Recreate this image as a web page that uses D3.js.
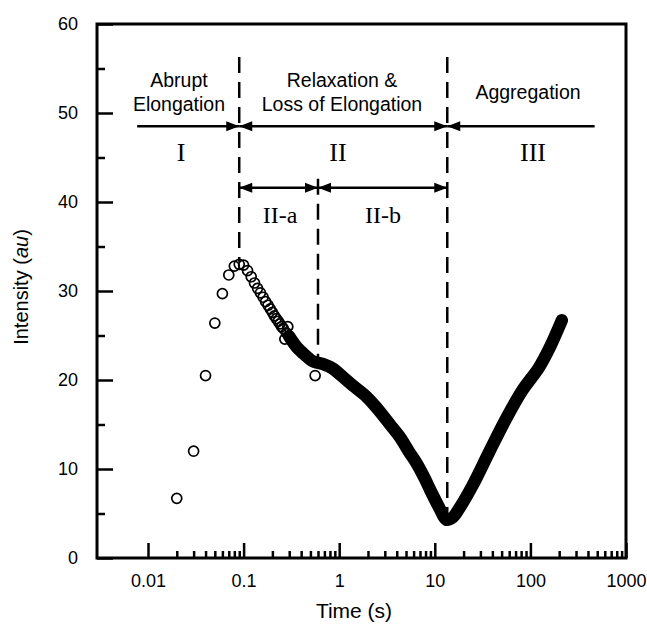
<!DOCTYPE html>
<html><head><meta charset="utf-8">
<script src="https://cdn.jsdelivr.net/npm/d3@7"></script>
<style>body{margin:0;background:#fff}</style>
</head><body>
<svg id="c" width="647" height="628"></svg>
<script>
// ---- data ----
const sparseTime = [0.02,0.03,0.04,0.05,0.06,0.07,0.08,0.09,0.10,0.11,0.12,0.13,0.14,0.15,0.16,0.17,0.18,0.19,0.20,
  0.21,0.22,0.23,0.24,0.25,0.26,0.27,0.28,0.29,0.30,0.31,0.32,0.33,0.34,0.35,0.56];
const sparseIntensity = [6.7,12.0,20.5,26.4,29.7,31.8,32.8,33.0,32.9,32.3,31.6,30.9,30.3,29.8,29.3,28.8,28.4,28.0,27.6,
  27.2,26.9,26.6,26.3,26.0,25.8,24.6,25.3,26.0,24.9,24.6,24.4,24.2,24.0,23.8,20.5];
const traceTime = [0.30,0.36,0.44,0.53,0.67,0.85,1.08,1.38,1.94,2.5,3.4,4.3,5.4,6.4,7.8,9.0,11.2,13.2,15.5,18.1,24.7,37,56,82,123,157,213];
const traceIntensity = [24.9,23.7,22.8,22.1,21.8,21.3,20.4,19.4,18.1,16.8,15.0,13.6,11.9,10.7,9.0,7.6,5.6,4.3,4.6,5.6,8.1,11.9,15.7,18.8,21.4,23.5,26.7];
const xTickValues = [0.01,0.1,1,10,100,1000];
const xTickLabels = ["0.01","0.1","1","10","100","1000"];
const yTickValues = [0,10,20,30,40,50,60];
const yTickLabels = ["0","10","20","30","40","50","60"];
const phaseBounds = [0.09, 0.6, 13.5];
const phaseStart = 0.0077, phaseEnd = 470;

// ---- drawing ----
const svg = d3.select("#c");
const L = 97, R = 626, T = 24, B = 558;
const x = d3.scaleLog().domain([0.01, 1000]).range([148, 626]);
const y = d3.scaleLinear().domain([0, 60]).range([B, T]);
const sans = "'Liberation Sans', Arial, sans-serif";
const serif = "'Liberation Serif', 'Times New Roman', serif";

// minor ticks
const xMinor = [];
[0.01,0.1,1,10,100].forEach(d => { for (let k = 2; k <= 9; k++) xMinor.push(d * k); });
const yMinor = d3.range(5, 60, 10);

const gx = svg.append("g").attr("transform", `translate(0,${B})`);
gx.append("g").call(d3.axisBottom(x).tickValues(xMinor).tickSize(-7).tickFormat(""));
gx.append("g").call(d3.axisBottom(x).tickValues(xTickValues).tickSize(-15).tickPadding(16)
  .tickFormat((d,i) => xTickLabels[i]));
gx.selectAll(".domain").remove();
gx.selectAll("line").attr("stroke", "#000").attr("stroke-width", 2.5);
gx.selectAll("text").attr("font-family", sans).attr("font-size", 18).attr("fill", "#000");

const gy = svg.append("g").attr("transform", `translate(${L},0)`);
gy.append("g").call(d3.axisLeft(y).tickValues(yMinor).tickSize(-8).tickFormat(""));
gy.append("g").call(d3.axisLeft(y).tickValues(yTickValues).tickSize(-16).tickPadding(19)
  .tickFormat((d,i) => yTickLabels[i]));
gy.selectAll(".domain").remove();
gy.selectAll("line").attr("stroke", "#000").attr("stroke-width", 2.5);
gy.selectAll("text").attr("font-family", sans).attr("font-size", 18).attr("fill", "#000");

// frame
svg.append("rect").attr("x", L).attr("y", T).attr("width", R - L).attr("height", B - T)
  .attr("fill", "none").attr("stroke", "#000").attr("stroke-width", 3);

// axis titles
svg.append("text").attr("x", 354).attr("y", 618).attr("text-anchor", "middle")
  .attr("font-family", sans).attr("font-size", 21).text("Time (s)");
const yt = svg.append("text").attr("transform", "translate(28,287) rotate(-90)").attr("text-anchor", "middle")
  .attr("font-family", sans).attr("font-size", 20);
yt.append("tspan").text("Intensity (");
yt.append("tspan").attr("font-style", "italic").text("au");
yt.append("tspan").text(")");

// dashed phase boundaries
const dashSpans = [[56.3, 33.3], [42.6, 21.8], [56.3, 5.2]];
phaseBounds.forEach((t, i) => {
  svg.append("line").attr("x1", x(t)).attr("x2", x(t))
    .attr("y1", y(dashSpans[i][0])).attr("y2", y(dashSpans[i][1]))
    .attr("stroke", "#000").attr("stroke-width", 2.5).attr("stroke-dasharray", "16,9");
});

// arrows
function head(px, py, dir) {
  const len = 13, h = 5;
  svg.append("path").attr("d", `M${px},${py}L${px - dir*len},${py - h}L${px - dir*len},${py + h}Z`).attr("fill", "#000");
}
function arrow(t1, t2, v, a1, a2) {
  const x1 = x(t1), x2 = x(t2), py = y(v);
  svg.append("line").attr("x1", x1).attr("x2", x2).attr("y1", py).attr("y2", py)
    .attr("stroke", "#000").attr("stroke-width", 2.5);
  if (a1) head(x1, py, -1);
  if (a2) head(x2, py, 1);
}
const row1 = 48.5, row2 = 41.6;
arrow(phaseStart, phaseBounds[0], row1, false, true);
arrow(phaseBounds[0], phaseBounds[2], row1, true, true);
arrow(phaseBounds[2], phaseEnd, row1, true, false);
arrow(phaseBounds[0], phaseBounds[1], row2, true, true);
arrow(phaseBounds[1], phaseBounds[2], row2, true, true);

// annotation texts
const notes = [
  ["Abrupt", 179, 87, sans, 19.5], ["Elongation", 179, 111, sans, 19.5],
  ["Relaxation &", 342, 87, sans, 19.5], ["Loss of Elongation", 342, 111, sans, 19.5],
  ["Aggregation", 528, 99, sans, 19.5],
  ["I", 181, 161, serif, 26], ["II", 338, 161, serif, 26], ["III", 533, 161, serif, 26],
  ["II-a", 280, 223, serif, 24], ["II-b", 383, 223, serif, 24]
];
notes.forEach(n => svg.append("text").attr("x", n[1]).attr("y", n[2]).attr("text-anchor", "middle")
  .attr("font-family", n[3]).attr("font-size", n[4]).attr("fill", "#000").text(n[0]));

// dense trace
const trace = traceTime.map((t, i) => [t, traceIntensity[i]]);
svg.append("path").datum(trace)
  .attr("d", d3.line().x(d => x(d[0])).y(d => y(d[1])).curve(d3.curveCatmullRom))
  .attr("fill", "none").attr("stroke", "#000").attr("stroke-width", 12.5)
  .attr("stroke-linecap", "round").attr("stroke-linejoin", "round");

// sparse circles
svg.append("g").selectAll("circle").data(sparseTime.map((t, i) => [t, sparseIntensity[i]]))
  .join("circle").attr("cx", d => x(d[0])).attr("cy", d => y(d[1])).attr("r", 5)
  .attr("fill", "none").attr("stroke", "#000").attr("stroke-width", 1.7);
</script>
</body></html>
